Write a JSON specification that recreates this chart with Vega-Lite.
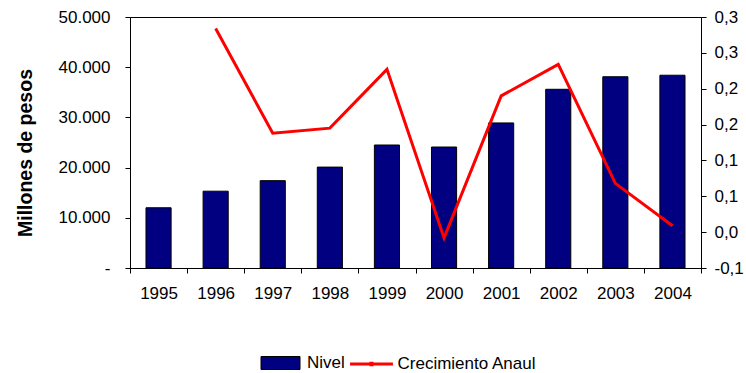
{
  "$schema": "https://vega.github.io/schema/vega-lite/v6.json",
  "width": 571,
  "height": 251,
  "autosize": {"type": "none"},
  "padding": {"left": 130, "top": 17, "right": 45, "bottom": 105},
  "background": "white",
  "config": {
    "font": "Liberation Sans",
    "view": {"stroke": "black", "strokeWidth": 1},
    "axis": {
      "labelFont": "Liberation Sans",
      "labelFontSize": 17,
      "labelColor": "black",
      "titleFont": "Liberation Sans",
      "titleColor": "black",
      "domainColor": "black",
      "tickColor": "black",
      "tickSize": 5,
      "grid": false
    },
    "legend": {
      "labelFont": "Liberation Sans",
      "labelFontSize": 17,
      "labelColor": "black"
    }
  },
  "data": {
    "values": [
      {"year": "1995", "nivel": 12000, "crecimiento": null},
      {"year": "1996", "nivel": 15300, "crecimiento": 0.284},
      {"year": "1997", "nivel": 17400, "crecimiento": 0.138},
      {"year": "1998", "nivel": 20100, "crecimiento": 0.145},
      {"year": "1999", "nivel": 24500, "crecimiento": 0.227},
      {"year": "2000", "nivel": 24100, "crecimiento": -0.008},
      {"year": "2001", "nivel": 28900, "crecimiento": 0.19},
      {"year": "2002", "nivel": 35600, "crecimiento": 0.234},
      {"year": "2003", "nivel": 38100, "crecimiento": 0.068},
      {"year": "2004", "nivel": 38400, "crecimiento": 0.009}
    ]
  },
  "encoding": {
    "x": {
      "field": "year",
      "type": "ordinal",
      "scale": {"paddingInner": 0, "paddingOuter": 0},
      "axis": {
        "title": null,
        "labelAngle": 0,
        "tickBand": "extent",
        "labelPadding": 12
      }
    }
  },
  "layer": [
    {
      "mark": {"type": "bar", "stroke": "black", "strokeWidth": 1, "width": {"band": 0.44}},
      "encoding": {
        "y": {
          "field": "nivel",
          "type": "quantitative",
          "scale": {"domain": [0, 50000], "nice": false},
          "axis": {
            "orient": "left",
            "title": "Millones de pesos",
            "titleFontWeight": "bold",
            "titleFontSize": 19.5,
            "titlePadding": 23,
            "titleY": 135.5,
            "labelPadding": 15,
            "values": [0, 10000, 20000, 30000, 40000, 50000],
            "labelExpr": "datum.value == 0 ? '-\u00a0\u00a0\u00a0\u00a0\u00a0' : replace(format(datum.value, ',.0f'), ',', '.')"
          }
        },
        "fill": {
          "datum": "Nivel",
          "scale": {"domain": ["Nivel"], "range": ["#000080"]},
          "legend": {
            "title": null,
            "orient": "none",
            "direction": "horizontal",
            "legendX": 137,
            "legendY": 332.5,
            "symbolType": "M-1.5,-0.5H1.5V0.5H-1.5Z",
            "symbolSize": 676,
            "symbolStrokeColor": "black",
            "symbolStrokeWidth": 1,
            "symbolOpacity": 1,
            "labelOffset": 13
          }
        }
      }
    },
    {
      "mark": {"type": "line", "strokeWidth": 3},
      "encoding": {
        "y": {
          "field": "crecimiento",
          "type": "quantitative",
          "scale": {"domain": [-0.05, 0.3], "nice": false, "zero": false},
          "axis": {
            "orient": "right",
            "title": null,
            "labelPadding": 8,
            "values": [-0.05, 0, 0.05, 0.1, 0.15, 0.2, 0.25, 0.3],
            "labelExpr": "(datum.value < 0 ? '-' : '') + '0,' + round(abs(datum.value) * 10 + 1e-9)"
          }
        },
        "stroke": {
          "datum": "Crecimiento Anaul",
          "scale": {"domain": ["Crecimiento Anaul"], "range": ["#ff0000"]},
          "legend": {
            "title": null,
            "orient": "none",
            "direction": "horizontal",
            "legendX": 227,
            "legendY": 332.5,
            "symbolType": "M-1.65,0H1.65M-0.04,-0.06H0.04V0.06H-0.04Z",
            "symbolSize": 676,
            "symbolStrokeWidth": 3,
            "symbolOpacity": 1,
            "labelOffset": 11.5
          }
        }
      }
    }
  ],
  "resolve": {"scale": {"y": "independent"}}
}
